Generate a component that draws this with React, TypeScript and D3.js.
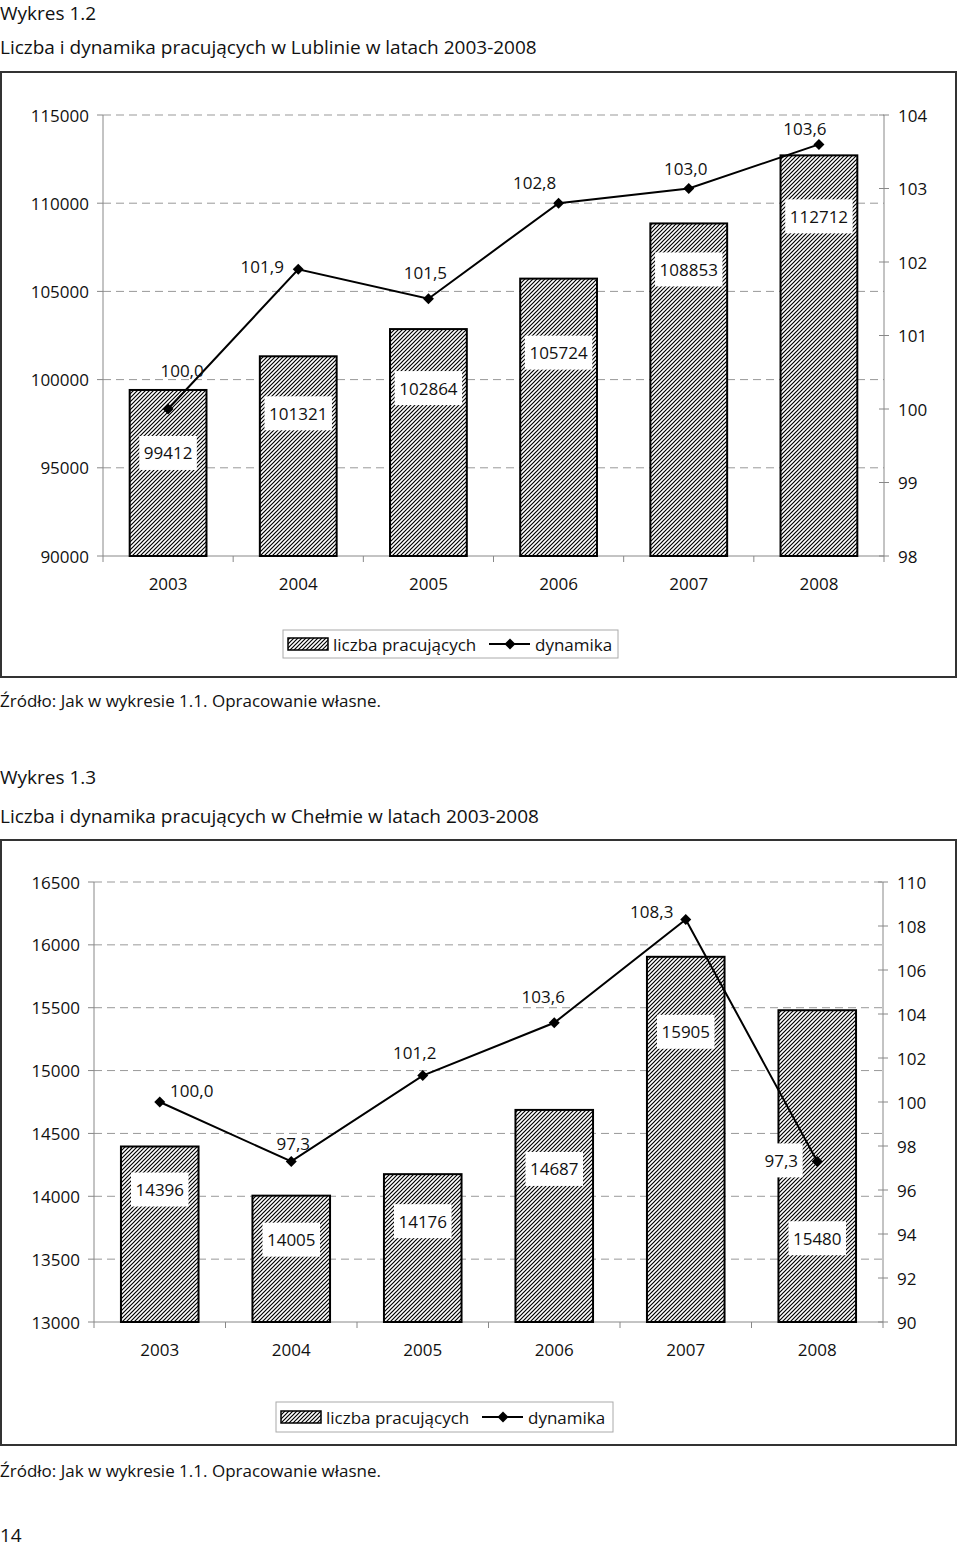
import React from "react";
import * as d3 from "d3";

const years = ["2003", "2004", "2005", "2006", "2007", "2008"];

// Wykres 1.2 - Lublin
const lublinEmployed = [99412, 101321, 102864, 105724, 108853, 112712];
const lublinDynamics = [100.0, 101.9, 101.5, 102.8, 103.0, 103.6];
const lublinLeftTicks = [90000, 95000, 100000, 105000, 110000, 115000];
const lublinRightTicks = [98, 99, 100, 101, 102, 103, 104];

// Wykres 1.3 - Chełm
const chelmEmployed = [14396, 14005, 14176, 14687, 15905, 15480];
const chelmDynamics = [100.0, 97.3, 101.2, 103.6, 108.3, 97.3];
const chelmLeftTicks = [13000, 13500, 14000, 14500, 15000, 15500, 16000, 16500];
const chelmRightTicks = [90, 92, 94, 96, 98, 100, 102, 104, 106, 108, 110];

const FONT = "'Open Sans', Lato, sans-serif";
const fmtDyn = (v: number) => d3.format(".1f")(v).replace(".", ",");

type ChartProps = {
  id: string;
  frameY: number;
  frameH: number;
  plot: { left: number; right: number; top: number; bottom: number };
  employed: number[];
  dynamics: number[];
  leftTicks: number[];
  rightTicks: number[];
  barLabelDy: number[];
  lineLabelShift: [number, number][];
  lineLabelBoxed: number[];
  legend: { x: number; y: number; w: number; h: number };
};

function Diamond({ x, y, r }: { x: number; y: number; r: number }) {
  return <polygon points={`${x},${y - r} ${x + r},${y} ${x},${y + r} ${x - r},${y}`} fill="#000" />;
}

function Chart(p: ChartProps) {
  const { plot } = p;
  const x = d3
    .scaleBand<string>()
    .domain(years)
    .range([plot.left, plot.right])
    .paddingInner(0.41)
    .paddingOuter(0.205);
  const yL = d3
    .scaleLinear()
    .domain(d3.extent(p.leftTicks) as [number, number])
    .range([plot.bottom, plot.top]);
  const yR = d3
    .scaleLinear()
    .domain(d3.extent(p.rightTicks) as [number, number])
    .range([plot.bottom, plot.top]);
  const step = x.step();
  const boundaries = d3.range(years.length + 1).map((i) => plot.left + i * step);
  const cx = (i: number) => x(years[i])! + x.bandwidth() / 2;
  const line = d3
    .line<number>()
    .x((_, i) => cx(i))
    .y((d) => yR(d));
  const lg = p.legend;
  const lgMid = lg.y + lg.h / 2;

  return (
    <g>
      <rect x={1} y={p.frameY} width={955} height={p.frameH} fill="none" stroke="#333" strokeWidth={2} />

      {/* grid */}
      {p.leftTicks.slice(1).map((t) => (
        <line key={t} x1={plot.left} x2={plot.right} y1={yL(t)} y2={yL(t)} stroke="#999" strokeDasharray="8,5" />
      ))}

      {/* axes */}
      <line x1={plot.left} x2={plot.left} y1={plot.top} y2={plot.bottom} stroke="#888" />
      <line x1={plot.right} x2={plot.right} y1={plot.top} y2={plot.bottom} stroke="#888" />
      <line x1={plot.left} x2={plot.right} y1={plot.bottom} y2={plot.bottom} stroke="#888" />
      {p.leftTicks.map((t) => (
        <g key={t}>
          <line x1={plot.left - 6} x2={plot.left} y1={yL(t)} y2={yL(t)} stroke="#888" />
          <text x={plot.left - 14} y={yL(t)} textAnchor="end" dominantBaseline="central" fontSize={17}>
            {t}
          </text>
        </g>
      ))}
      {p.rightTicks.map((t) => (
        <g key={t}>
          <line x1={plot.right - 5} x2={plot.right + 5} y1={yR(t)} y2={yR(t)} stroke="#888" />
          <text x={plot.right + 14} y={yR(t)} dominantBaseline="central" fontSize={17}>
            {t}
          </text>
        </g>
      ))}
      {boundaries.map((b, i) => (
        <line key={i} x1={b} x2={b} y1={plot.bottom} y2={plot.bottom + 6} stroke="#888" />
      ))}
      {years.map((yr, i) => (
        <text key={yr} x={cx(i)} y={plot.bottom + 27} textAnchor="middle" dominantBaseline="central" fontSize={17}>
          {yr}
        </text>
      ))}

      {/* bars */}
      {p.employed.map((v, i) => (
        <rect
          key={i}
          x={x(years[i])}
          y={yL(v)}
          width={x.bandwidth()}
          height={plot.bottom - yL(v)}
          fill={`url(#hatch-${p.id})`}
          stroke="#000"
          strokeWidth={2}
        />
      ))}
      {p.employed.map((v, i) => {
        const cy = yL(v) + p.barLabelDy[i];
        const w = String(v).length * 9.9 + 8;
        return (
          <g key={i}>
            <rect x={cx(i) - w / 2} y={cy - 17} width={w} height={34} fill="#fff" />
            <text x={cx(i)} y={cy} textAnchor="middle" dominantBaseline="central" fontSize={17}>
              {v}
            </text>
          </g>
        );
      })}

      {/* dynamics line */}
      <path d={line(p.dynamics)!} fill="none" stroke="#000" strokeWidth={2} />
      {p.dynamics.map((v, i) => (
        <Diamond key={i} x={cx(i)} y={yR(v)} r={5.5} />
      ))}
      {p.dynamics.map((v, i) => {
        const [dx, dy] = p.lineLabelShift[i];
        const lx = cx(i) + dx;
        const ly = yR(v) + dy;
        const label = fmtDyn(v);
        const w = label.length * 9.2 + 6;
        return (
          <g key={i}>
            {p.lineLabelBoxed.includes(i) && <rect x={lx - w / 2} y={ly - 17} width={w} height={34} fill="#fff" />}
            <text x={lx} y={ly} textAnchor="middle" dominantBaseline="central" fontSize={17}>
              {label}
            </text>
          </g>
        );
      })}

      {/* legend */}
      <rect x={lg.x} y={lg.y} width={lg.w} height={lg.h} fill="#fff" stroke="#aaa" />
      <rect x={lg.x + 5} y={lgMid - 6} width={40} height={12} fill={`url(#hatch-${p.id})`} stroke="#000" strokeWidth={1.5} />
      <text x={lg.x + 50} y={lgMid} dominantBaseline="central" fontSize={17}>
        liczba pracujących
      </text>
      <line x1={lg.x + 206} x2={lg.x + 247} y1={lgMid} y2={lgMid} stroke="#000" strokeWidth={2} />
      <Diamond x={lg.x + 227} y={lgMid} r={5.5} />
      <text x={lg.x + 252} y={lgMid} dominantBaseline="central" fontSize={17}>
        dynamika
      </text>
    </g>
  );
}

export default function App() {
  return (
    <svg
      width={960}
      height={1547}
      style={{ position: "absolute", left: 0, top: 0, display: "block", background: "#fff" }}
      fontFamily={FONT}
      fill="#111"
    >
      <defs>
        {["a", "b"].map((id) => (
          <pattern key={id} id={`hatch-${id}`} patternUnits="userSpaceOnUse" width={4} height={4}>
            <rect width={4} height={4} fill="#fff" />
            <path d="M-1,1 l2,-2 M0,4 l4,-4 M3,5 l2,-2" stroke="#000" strokeWidth={1.2} />
          </pattern>
        ))}
      </defs>

      <text x={0} y={20} fontSize={19}>Wykres 1.2</text>
      <text x={0} y={54} fontSize={19}>Liczba i dynamika pracujących w Lublinie w latach 2003-2008</text>
      <Chart
        id="a"
        frameY={72}
        frameH={605}
        plot={{ left: 103, right: 884, top: 115, bottom: 556 }}
        employed={lublinEmployed}
        dynamics={lublinDynamics}
        leftTicks={lublinLeftTicks}
        rightTicks={lublinRightTicks}
        barLabelDy={[63, 57, 59, 74, 46, 61]}
        lineLabelShift={[[14, -39], [-36, -3], [-3, -26], [-24, -21], [-3, -20], [-14, -16]]}
        lineLabelBoxed={[]}
        legend={{ x: 283, y: 630, w: 335, h: 28 }}
      />
      <text x={0} y={707} fontSize={17}>Źródło: Jak w wykresie 1.1. Opracowanie własne.</text>

      <text x={0} y={784} fontSize={19}>Wykres 1.3</text>
      <text x={0} y={823} fontSize={19}>Liczba i dynamika pracujących w Chełmie w latach 2003-2008</text>
      <Chart
        id="b"
        frameY={840}
        frameH={605}
        plot={{ left: 94, right: 883, top: 882, bottom: 1322 }}
        employed={chelmEmployed}
        dynamics={chelmDynamics}
        leftTicks={chelmLeftTicks}
        rightTicks={chelmRightTicks}
        barLabelDy={[43, 44, 47, 59, 75, 228]}
        lineLabelShift={[[32, -12], [2, -18], [-8, -23], [-11, -26], [-34, -8], [-36, -1]]}
        lineLabelBoxed={[5]}
        legend={{ x: 276, y: 1402, w: 337, h: 30 }}
      />
      <text x={0} y={1477} fontSize={17}>Źródło: Jak w wykresie 1.1. Opracowanie własne.</text>
      <text x={0} y={1542} fontSize={19}>14</text>
    </svg>
  );
}
